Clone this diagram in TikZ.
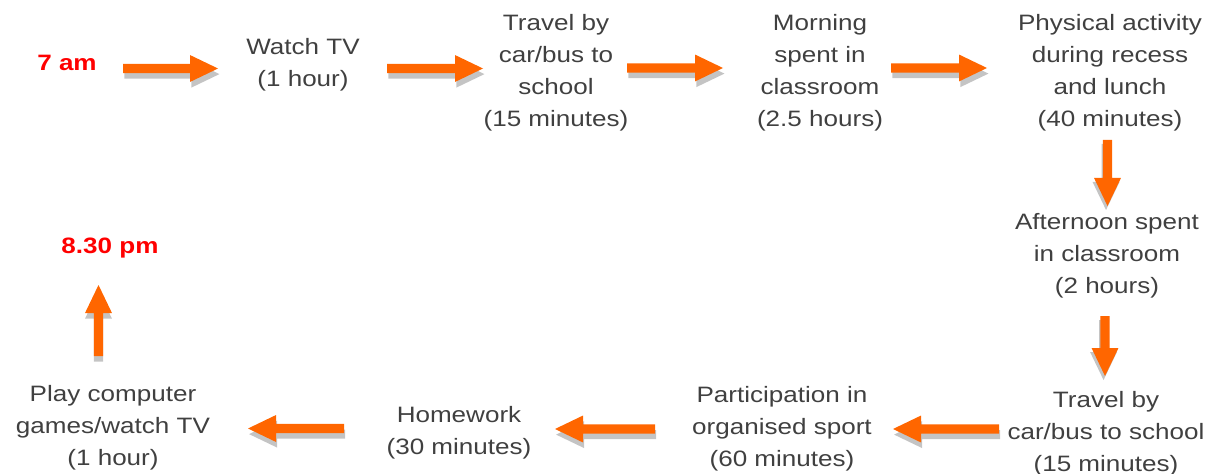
\documentclass[tikz,border=0pt]{standalone}
\usepackage{fontspec}
\setmainfont[FakeStretch=1.17]{Liberation Sans}
\usetikzlibrary{calc}
\definecolor{arrowor}{HTML}{FF6600}
\definecolor{shadowgr}{HTML}{C4C4C4}
\definecolor{txtgr}{HTML}{404040}
\definecolor{timered}{HTML}{FF0000}
\newcommand{\blockarrow}[3]{% #1 start, #2 end, #3 shadow shift (canvas)
  \coordinate (hb) at ($(#2)!21pt!(#1)$);
  \coordinate (p1) at ($(#1)!3.4pt!90:(#2)$);
  \coordinate (p2) at ($(hb)!3.4pt!-90:(#1)$);
  \coordinate (p3) at ($(hb)!10.1pt!-90:(#1)$);
  \coordinate (p5) at ($(hb)!10.1pt!90:(#1)$);
  \coordinate (p6) at ($(hb)!3.4pt!90:(#1)$);
  \coordinate (p7) at ($(#1)!3.4pt!-90:(#2)$);
  \fill[shadowgr, transform canvas={#3}] (p1) -- (p2) -- (p3) -- (#2) -- (p5) -- (p6) -- (p7) -- cycle;
  \fill[arrowor] (p1) -- (p2) -- (p3) -- (#2) -- (p5) -- (p6) -- (p7) -- cycle;
}
\begin{document}
\begin{tikzpicture}[x=0.75pt,y=-0.75pt,
  lbl/.style={anchor=north,align=center,inner sep=0pt,text=txtgr,font=\fontsize{16.7}{23.9}\selectfont},
  timelbl/.style={anchor=north,inner sep=0pt,text=timered,font=\fontsize{16.7}{23.9}\selectfont\bfseries}]
\useasboundingbox (0,0) rectangle (1218,474);
% nodes
\node[timelbl] (t7) at (67,55) {7 am};
\node[lbl] (tv) at (303,38) {Watch TV\\(1 hour)};
\node[lbl] (trav1) at (556,14.5) {Travel by\\car/bus to\\school\\(15 minutes)};
\node[lbl] (morn) at (820,14.5) {Morning\\spent in\\classroom\\(2.5 hours)};
\node[lbl] (phys) at (1110,14.5) {Physical activity\\during recess\\and lunch\\(40 minutes)};
\node[lbl] (aft) at (1107,213.5) {Afternoon spent\\in classroom\\(2 hours)};
\node[lbl] (trav2) at (1106,391) {Travel by\\car/bus to school\\(15 minutes)};
\node[lbl] (sport) at (782,386) {Participation in\\organised sport\\(60 minutes)};
\node[lbl] (hw) at (459,406) {Homework\\(30 minutes)};
\node[lbl] (play) at (113,385) {Play computer\\games/watch TV\\(1 hour)};
\node[timelbl] (t830) at (110,238) {8.30 pm};
% arrow end points
\coordinate (a1s) at (123,68.5); \coordinate (a1e) at (218,68.5);
\coordinate (a2s) at (387,68.5); \coordinate (a2e) at (483,68.5);
\coordinate (a3s) at (627,68);   \coordinate (a3e) at (723,68);
\coordinate (a4s) at (891,68);   \coordinate (a4e) at (987,68);
\coordinate (d1s) at (1107.5,140); \coordinate (d1e) at (1107.5,206);
\coordinate (d2s) at (1105,316); \coordinate (d2e) at (1105,376);
\coordinate (l1s) at (999,429); \coordinate (l1e) at (893,429);
\coordinate (l2s) at (655,429); \coordinate (l2e) at (555,429);
\coordinate (l3s) at (344,428.5); \coordinate (l3e) at (248,428.5);
\coordinate (us) at (98.5,356); \coordinate (ue) at (98.5,285);
\blockarrow{a1s}{a1e}{xshift=1.1pt,yshift=-4.2pt}
\blockarrow{a2s}{a2e}{xshift=1.1pt,yshift=-4.2pt}
\blockarrow{a3s}{a3e}{xshift=1.1pt,yshift=-4.2pt}
\blockarrow{a4s}{a4e}{xshift=1.1pt,yshift=-4.2pt}
\blockarrow{d1s}{d1e}{xshift=-1.1pt,yshift=-3pt}
\blockarrow{d2s}{d2e}{xshift=-1.1pt,yshift=-3pt}
\blockarrow{l1s}{l1e}{xshift=0.8pt,yshift=-4.2pt}
\blockarrow{l2s}{l2e}{xshift=0.8pt,yshift=-4.2pt}
\blockarrow{l3s}{l3e}{xshift=0.8pt,yshift=-4.2pt}
\blockarrow{us}{ue}{xshift=0pt,yshift=-4.2pt}
\end{tikzpicture}
\end{document}
